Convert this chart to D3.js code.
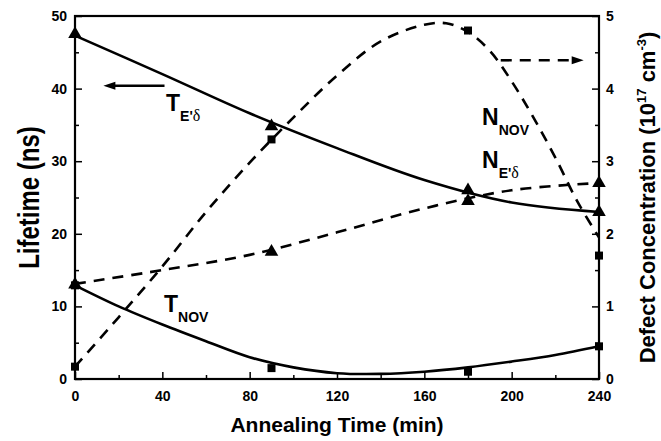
<!DOCTYPE html>
<html>
<head>
<meta charset="utf-8">
<script src="https://cdn.jsdelivr.net/npm/d3@7.9.0/dist/d3.min.js"></script>
<style>
  html, body { margin: 0; padding: 0; background: #fff; }
  svg { display: block; font-family: 'Liberation Sans', Arial, sans-serif; font-weight: bold; }
</style>
</head>
<body>
<svg id="chart" width="661" height="441"></svg>
<script>
// measured points (min, value)
const tNovPts = [[0, 12.9], [90, 1.5], [180, 1.0], [240, 4.5]];           // squares, left axis
const nNovPts = [[0, 0.17], [90, 3.3], [180, 4.8], [240, 1.7]];           // squares, right axis
const tEdPts = [[0, 47.5], [90, 34.8], [180, 26.0], [240, 23.0]];         // triangles, left axis
const nEdPts = [[0, 1.3], [90, 1.75], [180, 2.45], [240, 2.7]];           // triangles, right axis

// fitted curves
const tNovFit = [[0, 12.9], [20, 10.0], [40, 7.5], [60, 5.2], [80, 3.0], [100, 1.6], [120, 0.8],
  [140, 0.7], [160, 1.0], [180, 1.6], [200, 2.4], [220, 3.3], [240, 4.5]];
const tEdFit = [[0, 47.3], [40, 42.0], [80, 36.6], [120, 31.8], [160, 27.4], [200, 24.3], [240, 23.0]];
const nEdFit = [[0, 1.31], [40, 1.50], [80, 1.71], [120, 2.02], [160, 2.35], [200, 2.60], [240, 2.70]];
const nNovFit = [[0, 0.17], [20, 0.85], [40, 1.55], [60, 2.30], [80, 2.98], [100, 3.60], [120, 4.18],
  [140, 4.65], [160, 4.88], [170, 4.90], [180, 4.78], [190, 4.52], [200, 4.10], [210, 3.60],
  [220, 3.05], [230, 2.45], [240, 1.95]];

const xTicks = [0, 40, 80, 120, 160, 200, 240];
const leftTicks = [0, 10, 20, 30, 40, 50];
const rightTicks = [0, 1, 2, 3, 4, 5];

// arrows: [from, to] in data units
const leftArrow = [[41, 40.4], [13, 40.4]];     // left axis
const rightArrow = [[195, 4.39], [233, 4.39]];  // right axis

const W = 661, H = 441;
const m = { top: 16, right: 62, bottom: 62, left: 75 };
const dash = '11,8';

const svg = d3.select('#chart');
const x = d3.scaleLinear().domain([0, 240]).range([m.left, W - m.right]);
const yL = d3.scaleLinear().domain([0, 50]).range([H - m.bottom, m.top]);
const yR = d3.scaleLinear().domain([0, 5]).range([H - m.bottom, m.top]);

const lineL = d3.line().x(d => x(d[0])).y(d => yL(d[1])).curve(d3.curveCatmullRom);
const lineR = d3.line().x(d => x(d[0])).y(d => yR(d[1])).curve(d3.curveCatmullRom);

// curves
svg.append('path').attr('d', lineL(tEdFit)).attr('fill', 'none').attr('stroke', '#000').attr('stroke-width', 2.6);
svg.append('path').attr('d', lineL(tNovFit)).attr('fill', 'none').attr('stroke', '#000').attr('stroke-width', 2.6);
svg.append('path').attr('d', lineR(nEdFit)).attr('fill', 'none').attr('stroke', '#000').attr('stroke-width', 2.6)
  .attr('stroke-dasharray', dash);
svg.append('path').attr('d', lineR(nNovFit)).attr('fill', 'none').attr('stroke', '#000').attr('stroke-width', 2.6)
  .attr('stroke-dasharray', dash);

// markers
const sq = d3.symbol().type(d3.symbolSquare).size(64);
const tri = d3.symbol().type(d3.symbolTriangle).size(80);
function marks(pts, y, sym) {
  svg.append('g').selectAll('path').data(pts).join('path')
    .attr('d', sym)
    .attr('transform', d => `translate(${x(d[0])},${y(d[1])})`)
    .attr('fill', '#000');
}
marks(tNovPts, yL, sq);
marks(nNovPts, yR, sq);
marks(tEdPts, yL, tri);
marks(nEdPts, yR, tri);

// arrows
const la = leftArrow.map(d => [x(d[0]), yL(d[1])]);
svg.append('line').attr('x1', la[0][0]).attr('y1', la[0][1]).attr('x2', la[1][0] + 8).attr('y2', la[1][1])
  .attr('stroke', '#000').attr('stroke-width', 2.6);
svg.append('path').attr('d', `M${la[1][0]},${la[1][1]} l12,-4 l0,8 z`).attr('fill', '#000');
const ra = rightArrow.map(d => [x(d[0]), yR(d[1])]);
svg.append('line').attr('x1', ra[0][0]).attr('y1', ra[0][1]).attr('x2', ra[1][0] - 8).attr('y2', ra[1][1])
  .attr('stroke', '#000').attr('stroke-width', 2.6).attr('stroke-dasharray', dash);
svg.append('path').attr('d', `M${ra[1][0]},${ra[1][1]} l-12,-4 l0,8 z`).attr('fill', '#000');

// axes
const axisStyle = g => {
  g.select('.domain').remove();
  g.selectAll('line').attr('stroke', '#000').attr('stroke-width', 1.5);
  g.selectAll('text').attr('font-size', 14).attr('font-weight', 'bold').attr('fill', '#000');
};
svg.append('g').attr('transform', `translate(0,${H - m.bottom})`)
  .call(d3.axisBottom(x).tickValues(xTicks).tickSizeInner(-7).tickSizeOuter(0).tickPadding(12))
  .call(axisStyle);
svg.append('g').attr('transform', `translate(0,${H - m.bottom})`)
  .call(d3.axisBottom(x).tickValues(d3.range(20, 240, 40)).tickSize(-4).tickFormat(''))
  .call(axisStyle);
svg.append('g').attr('transform', `translate(${m.left},0)`)
  .call(d3.axisLeft(yL).tickValues(leftTicks).tickSizeInner(-7).tickSizeOuter(0).tickPadding(8))
  .call(axisStyle);
svg.append('g').attr('transform', `translate(${m.left},0)`)
  .call(d3.axisLeft(yL).tickValues(d3.range(5, 50, 10)).tickSize(-4).tickFormat(''))
  .call(axisStyle);
svg.append('g').attr('transform', `translate(${W - m.right},0)`)
  .call(d3.axisRight(yR).tickValues(rightTicks).tickFormat(d3.format('d')).tickSizeInner(-7).tickSizeOuter(0).tickPadding(7))
  .call(axisStyle);
svg.append('g').attr('transform', `translate(${W - m.right},0)`)
  .call(d3.axisRight(yR).tickValues(d3.range(0.5, 5, 1)).tickSize(-4).tickFormat(''))
  .call(axisStyle);

// frame
svg.append('rect').attr('x', m.left).attr('y', m.top)
  .attr('width', W - m.left - m.right).attr('height', H - m.top - m.bottom)
  .attr('fill', 'none').attr('stroke', '#000').attr('stroke-width', 2.2);

// axis titles
svg.append('text').attr('x', (m.left + W - m.right) / 2).attr('y', 432)
  .attr('text-anchor', 'middle').attr('font-size', 21).text('Annealing Time (min)');
svg.append('text').attr('transform', `translate(39,${(m.top + H - m.bottom) / 2}) scale(1.2,1) rotate(-90)`)
  .attr('text-anchor', 'middle').attr('font-size', 24).text('Lifetime (ns)');
const rt = svg.append('text').attr('transform', `translate(655,${(m.top + H - m.bottom) / 2}) rotate(-90)`)
  .attr('text-anchor', 'middle').attr('font-size', 22);
rt.append('tspan').text('Defect Concentration (10');
rt.append('tspan').attr('font-size', 13).attr('dy', -9).text('17');
rt.append('tspan').attr('dy', 9).text(' cm');
rt.append('tspan').attr('font-size', 13).attr('dy', -9).text('-3');
rt.append('tspan').attr('dy', 9).text(')');

// curve labels
function label(xp, yp, main, sub) {
  const t = svg.append('text').attr('x', xp).attr('y', yp).attr('font-size', 23);
  t.append('tspan').text(main);
  const s = t.append('tspan').attr('font-size', 14).attr('dy', 10);
  sub.forEach(p => s.append('tspan').attr('font-family', p.serif ? "'Liberation Serif', serif" : null)
    .attr('font-weight', p.serif ? 'normal' : null).attr('font-size', p.serif ? 16 : null).text(p.t));
}
const subEd = [{ t: "E'" }, { t: 'δ', serif: true }];
const subNov = [{ t: 'NOV' }];
label(166, 111, 'T', subEd);
label(164, 312, 'T', subNov);
label(482, 125, 'N', subNov);
label(482, 168, 'N', subEd);
</script>
</body>
</html>
